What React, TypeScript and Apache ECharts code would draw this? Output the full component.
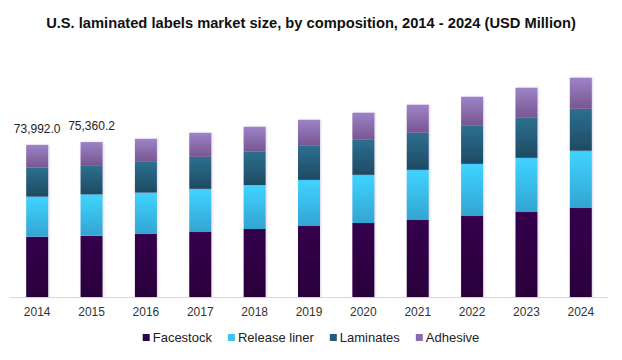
import React, { useEffect, useRef } from "react";
import * as echarts from "echarts";

const years = ["2014", "2015", "2016", "2017", "2018", "2019", "2020", "2021", "2022", "2023", "2024"];
const facestock = [29340, 29850, 30680, 31650, 33100, 34570, 36040, 37500, 39440, 41390, 43340];
const releaseLiner = [19480, 20060, 20110, 20940, 21430, 22400, 23380, 24350, 25320, 26300, 27760];
const laminates = [14120, 14200, 14950, 15580, 16070, 16560, 17050, 18020, 18510, 19480, 20450];
const adhesive = [11050, 11250, 11200, 11690, 12180, 12660, 13150, 13640, 14120, 14610, 15100];
const totalLabels = ["73,992.0", "75,360.2"];

const grad = (top: string, bottom: string) =>
  new echarts.graphic.LinearGradient(0, 0, 0, 1, [
    { offset: 0, color: top },
    { offset: 1, color: bottom },
  ]);

export default function App() {
  const ref = useRef<HTMLDivElement>(null);
  useEffect(() => {
    if (!ref.current) return;
    const chart = echarts.init(ref.current, null, { renderer: "svg" });
    const font = "Arial, 'Liberation Sans', sans-serif";
    const mk = (name: string, data: number[], color: any, extra: any = {}) => ({
      name,
      type: "bar",
      stack: "total",
      barWidth: 22,
      data,
      itemStyle: { color, shadowColor: "rgba(120,80,160,0.25)", shadowBlur: 2, shadowOffsetX: 1 },
      ...extra,
    });
    chart.setOption({
      animation: false,
      backgroundColor: "#ffffff",
      textStyle: { fontFamily: font },
      title: {
        text: "U.S. laminated labels market size, by composition, 2014 - 2024 (USD Million)",
        left: "center",
        top: 10,
        textStyle: { fontSize: 14.7, fontWeight: "bold", color: "#111", fontFamily: font },
      },
      legend: {
        bottom: 11,
        left: "center",
        itemWidth: 7,
        itemHeight: 7,
        itemGap: 16,
        icon: "rect",
        textStyle: { fontSize: 13, color: "#222", fontFamily: font, padding: [0, 0, 0, -2] },
        data: [
          { name: "Facestock", itemStyle: { color: "#2e0445" } },
          { name: "Release liner", itemStyle: { color: "#3cc4f2" } },
          { name: "Laminates", itemStyle: { color: "#255d78" } },
          { name: "Adhesive", itemStyle: { color: "#8a6bb0" } },
        ],
      },
      grid: { left: 10, right: 14, top: 40, bottom: 63, containLabel: false },
      xAxis: {
        type: "category",
        data: years,
        axisLine: { lineStyle: { color: "#d9d9d9" } },
        axisTick: { show: false },
        axisLabel: { fontSize: 12, color: "#333", margin: 9, fontFamily: font },
      },
      yAxis: {
        type: "value",
        min: 0,
        max: 125000,
        show: false,
        splitLine: { show: false },
      },
      series: [
        mk("Facestock", facestock, grad("#35024c", "#29003b")),
        mk("Release liner", releaseLiner, grad("#40d4ff", "#33a4d2")),
        mk("Laminates", laminates, grad("#2c7090", "#1e4a62")),
        mk("Adhesive", adhesive, grad("#9c83c8", "#78568f"), {
          label: {
            show: true,
            position: "top",
            distance: 10,
            fontSize: 12,
            color: "#222",
            fontFamily: font,
            formatter: (p: any) => totalLabels[p.dataIndex] ?? "",
          },
        }),
      ],
    });
    return () => chart.dispose();
  }, []);
  return <div ref={ref} style={{ width: 622, height: 360, position: "absolute", left: 0, top: 0 }} />;
}
